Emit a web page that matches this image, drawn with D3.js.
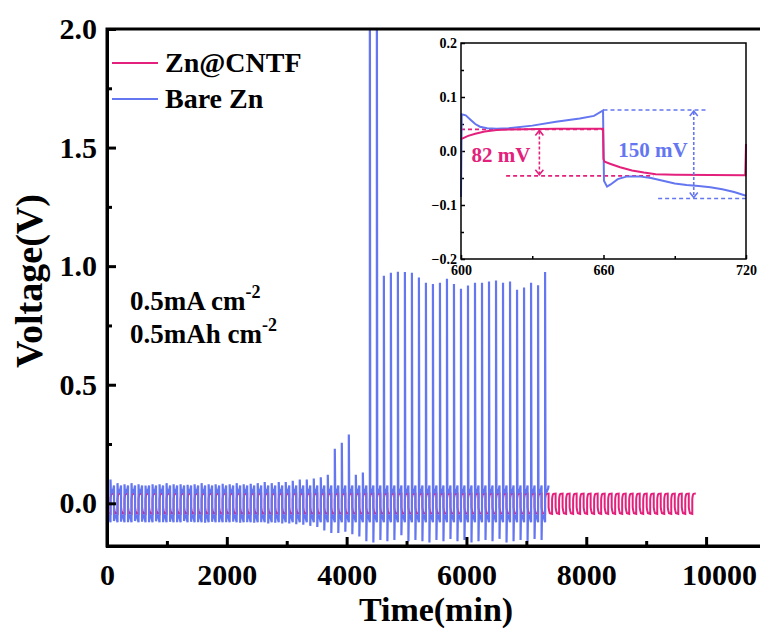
<!DOCTYPE html>
<html>
<head>
<meta charset="utf-8">
<script src="https://cdn.jsdelivr.net/npm/d3@7"></script>
<style>
  body { margin: 0; background: #fff; }
  text { font-family: "Liberation Serif", "Times New Roman", serif; font-weight: bold; }
</style>
</head>
<body>
<div class="chart"></div>
<script>
// ---- data ----
var period = 117;            // min per plating/stripping cycle on the main time axis
var pinkCycles = 84;         // Zn@CNTF runs to ~9830 min

// Bare Zn: voltage peak at start of each stripping half, and dip at start of each plating half
var blueSpike = [0.1, 0.085, 0.08, 0.085, 0.08, 0.075, 0.08, 0.08, 0.085, 0.08,
  0.08, 0.078, 0.08, 0.085, 0.08, 0.08, 0.082, 0.08, 0.085, 0.08,
  0.082, 0.085, 0.09, 0.085, 0.09, 0.09, 0.095, 0.1, 0.1, 0.105,
  0.11, 0.12, 0.23, 0.255, 0.29, 0.12, 0.13, 2.3, 2.3, 0.96,
  0.972, 0.976, 0.975, 0.972, 0.952, 0.93, 0.925, 0.93, 0.947, 0.925,
  0.905, 0.918, 0.93, 0.93, 0.935, 0.94, 0.93, 0.935, 0.9, 0.91,
  0.93, 0.92, 0.975];
var blueDip = [-0.08, -0.075, -0.078, -0.08, -0.075, -0.078, -0.08, -0.076, -0.08, -0.078,
  -0.08, -0.075, -0.078, -0.08, -0.082, -0.078, -0.08, -0.08, -0.078, -0.082,
  -0.08, -0.082, -0.08, -0.085, -0.082, -0.085, -0.085, -0.088, -0.09, -0.095,
  -0.1, -0.115, -0.125, -0.125, -0.12, -0.13, -0.14, -0.16, -0.165, -0.155,
  -0.16, -0.155, -0.135, -0.16, -0.155, -0.16, -0.165, -0.155, -0.16, -0.15,
  -0.16, -0.155, -0.165, -0.16, -0.155, -0.16, -0.15, -0.165, -0.16, -0.155,
  -0.16, -0.15, -0.155];

// shape of one half cycle: [fraction of half cycle, voltage]
var blueNegShape = [[0.12, -0.048], [0.4, -0.052], [0.7, -0.062], [1, -0.08]];
var bluePosShape = [[0.12, 0.042], [0.5, 0.05], [0.85, 0.062], [1, 0.075]];
var pinkNegShape = [[0, -0.015], [0.03, -0.02], [0.15, -0.03], [0.35, -0.042], [1, -0.045]];
var pinkPosShape = [[0, 0.015], [0.05, 0.025], [0.2, 0.036], [0.35, 0.04], [1, 0.041]];

// inset: 600-720 min
var insetPinkT = [600, 603, 606, 610, 615, 620, 640, 659.8, 660, 660.5, 663, 667, 672, 677, 682, 690, 719.7, 720];
var insetPinkV = [0.022, 0.028, 0.032, 0.036, 0.039, 0.04, 0.041, 0.041, -0.015, -0.02, -0.024, -0.03, -0.036, -0.04, -0.043, -0.044, -0.045, 0.013];
var insetBlueT = [600, 600.3, 602, 604, 606, 608, 611, 615, 620, 630, 640, 650, 656, 659.8, 660.2, 661.5, 663, 666, 670, 675, 680, 685, 690, 695, 700, 705, 710, 715, 720];
var insetBlueV = [-0.085, 0.068, 0.066, 0.058, 0.05, 0.045, 0.042, 0.041, 0.042, 0.047, 0.054, 0.06, 0.065, 0.075, -0.055, -0.066, -0.062, -0.052, -0.047, -0.047, -0.05, -0.055, -0.06, -0.063, -0.065, -0.067, -0.071, -0.076, -0.083];

var xTicks = [0, 2000, 4000, 6000, 8000, 10000];
var yTicks = [0, 0.5, 1.0, 1.5, 2.0];

var pink = "#e3207b", blue = "#6476f0";

// ---- build the time series ----
function buildSeries(n, negShape, posShape, dips, spikes) {
  var h = period / 2, pts = [];
  for (var k = 0; k < n; k++) {
    var t0 = k * period;
    if (dips) pts.push([t0, dips[k]]);
    negShape.forEach(function(p) { pts.push([t0 + p[0] * h, p[1]]); });
    if (spikes) pts.push([t0 + h, spikes[k]]);
    posShape.forEach(function(p) { pts.push([t0 + h + p[0] * h, p[1]]); });
  }
  return pts;
}
var blueData = buildSeries(blueSpike.length, blueNegShape, bluePosShape, blueDip, blueSpike);
var pinkData = buildSeries(pinkCycles, pinkNegShape, pinkPosShape);

var svg = d3.select(".chart").append("svg")
  .attr("width", 760)
  .attr("height", 631);

var x = d3.scaleLinear().domain([0, 11000]).range([107, 766]);
var y = d3.scaleLinear().domain([-0.18, 2.0]).range([546, 29]);

svg.append("clipPath").attr("id", "clip")
  .append("rect")
  .attr("x", 107).attr("y", 29)
  .attr("width", 659).attr("height", 517);

var line = d3.line()
  .x(function(d) { return x(d[0]); })
  .y(function(d) { return y(d[1]); });

var plot = svg.append("g").attr("clip-path", "url(#clip)");
plot.append("path").datum(pinkData)
  .attr("d", line).attr("fill", "none")
  .attr("stroke", pink).attr("stroke-width", 2);
plot.append("path").datum(blueData)
  .attr("d", line).attr("fill", "none")
  .attr("stroke", blue).attr("stroke-width", 2.2);

// frame
svg.append("rect")
  .attr("x", 107).attr("y", 29)
  .attr("width", 659).attr("height", 517)
  .attr("fill", "none").attr("stroke", "#000").attr("stroke-width", 3);

// axes, ticks pointing inward
var xAxis = svg.append("g")
  .attr("transform", "translate(0,546)")
  .call(d3.axisBottom(x).tickValues(xTicks).tickSize(-9).tickPadding(18).tickFormat(d3.format("d")));
svg.append("g")
  .attr("transform", "translate(0,546)")
  .call(d3.axisBottom(x).tickValues([1000, 3000, 5000, 7000, 9000]).tickSize(-5).tickFormat(""));
var yAxis = svg.append("g")
  .attr("transform", "translate(107,0)")
  .call(d3.axisLeft(y).tickValues(yTicks).tickSize(-9).tickPadding(10).tickFormat(d3.format(".1f")));
svg.append("g")
  .attr("transform", "translate(107,0)")
  .call(d3.axisLeft(y).tickValues([0.25, 0.75, 1.25, 1.75]).tickSize(-5).tickFormat(""));

svg.selectAll(".domain").attr("stroke-width", 3);
svg.selectAll(".tick line").attr("stroke-width", 3);
svg.selectAll(".tick text").attr("font-size", 30).attr("fill", "#000");
// the last label sits a little right of its tick in the original
xAxis.selectAll(".tick text").filter(function(d) { return d === 10000; }).attr("dx", 13);

svg.append("text")
  .attr("x", 436).attr("y", 621)
  .attr("text-anchor", "middle")
  .attr("font-size", 34)
  .text("Time(min)");

svg.append("text")
  .attr("transform", "translate(42,281) rotate(-90)")
  .attr("text-anchor", "middle")
  .attr("font-size", 38)
  .text("Voltage(V)");

// legend
var legend = [["Zn@CNTF", pink], ["Bare Zn", blue]];
legend.forEach(function(d, i) {
  svg.append("line")
    .attr("x1", 112).attr("x2", 158)
    .attr("y1", 63 + i * 36).attr("y2", 63 + i * 36)
    .attr("stroke", d[1]).attr("stroke-width", 2);
  svg.append("text")
    .attr("x", 165).attr("y", 72 + i * 36)
    .attr("font-size", 28)
    .text(d[0]);
});

// test conditions
var cond = ["0.5mA cm", "0.5mAh cm"];
cond.forEach(function(s, i) {
  var t = svg.append("text")
    .attr("x", 130).attr("y", 310 + i * 33)
    .attr("font-size", 27)
    .text(s);
  t.append("tspan").attr("dy", -12).attr("font-size", 18).text("-2");
});

// ---- inset ----
var xi = d3.scaleLinear().domain([600, 720]).range([461, 746]);
var yi = d3.scaleLinear().domain([-0.2, 0.2]).range([259, 43]);
var inset = svg.append("g");

inset.append("rect")
  .attr("x", 461).attr("y", 43)
  .attr("width", 285).attr("height", 216)
  .attr("fill", "#fff");

inset.append("g")
  .attr("transform", "translate(0,259)")
  .call(d3.axisBottom(xi).tickValues([600, 660, 720]).tickSize(-4).tickPadding(6).tickFormat(d3.format("d")));
inset.append("g")
  .attr("transform", "translate(0,259)")
  .call(d3.axisBottom(xi).tickValues([630, 690]).tickSize(-3).tickFormat(""));
inset.append("g")
  .attr("transform", "translate(461,0)")
  .call(d3.axisLeft(yi).tickValues([-0.2, -0.1, 0, 0.1, 0.2]).tickSize(-4).tickPadding(4).tickFormat(d3.format(".1f")));
inset.append("g")
  .attr("transform", "translate(461,0)")
  .call(d3.axisLeft(yi).tickValues([-0.15, -0.05, 0.05, 0.15]).tickSize(-3).tickFormat(""));
inset.selectAll(".tick text").attr("font-size", 14).attr("fill", "#000");
inset.selectAll(".tick line").attr("stroke-width", 1.5);
inset.selectAll(".domain").attr("stroke", "none");

var dash = "4,3";
function hDash(t1, t2, v, c) {
  inset.append("line")
    .attr("x1", xi(t1)).attr("x2", xi(t2))
    .attr("y1", yi(v)).attr("y2", yi(v))
    .attr("stroke", c).attr("stroke-width", 1.6).attr("stroke-dasharray", dash);
}
function vArrow(t, v1, v2, c) {
  var px = xi(t), a = yi(v1), b = yi(v2);
  inset.append("line")
    .attr("x1", px).attr("x2", px).attr("y1", a + 2).attr("y2", b - 2)
    .attr("stroke", c).attr("stroke-width", 1.6).attr("stroke-dasharray", "3,2");
  inset.append("path")
    .attr("d", "M" + (px - 4) + "," + (a + 6) + "L" + px + "," + (a + 1) + "L" + (px + 4) + "," + (a + 6) +
               "M" + (px - 4) + "," + (b - 6) + "L" + px + "," + (b - 1) + "L" + (px + 4) + "," + (b - 6))
    .attr("fill", "none").attr("stroke", c).attr("stroke-width", 1.6);
}

hDash(600, 660, 0.04, pink);
hDash(619, 681, -0.046, pink);
hDash(660, 703, 0.076, blue);
hDash(683, 720, -0.088, blue);

var lineI = d3.line()
  .x(function(d) { return xi(d[0]); })
  .y(function(d) { return yi(d[1]); });

inset.append("path")
  .datum(insetBlueT.map(function(t, i) { return [t, insetBlueV[i]]; }))
  .attr("d", lineI).attr("fill", "none")
  .attr("stroke", blue).attr("stroke-width", 2);
inset.append("path")
  .datum(insetPinkT.map(function(t, i) { return [t, insetPinkV[i]]; }))
  .attr("d", lineI).attr("fill", "none")
  .attr("stroke", pink).attr("stroke-width", 2);

vArrow(633, 0.04, -0.046, pink);
vArrow(698, 0.076, -0.088, blue);

inset.append("text")
  .attr("x", 501).attr("y", 162)
  .attr("text-anchor", "middle")
  .attr("font-size", 21).attr("fill", pink)
  .text("82 mV");
inset.append("text")
  .attr("x", 653).attr("y", 157)
  .attr("text-anchor", "middle")
  .attr("font-size", 21).attr("fill", blue)
  .text("150 mV");

inset.append("rect")
  .attr("x", 461).attr("y", 43)
  .attr("width", 285).attr("height", 216)
  .attr("fill", "none").attr("stroke", "#000").attr("stroke-width", 1.5);
</script>
</body>
</html>
